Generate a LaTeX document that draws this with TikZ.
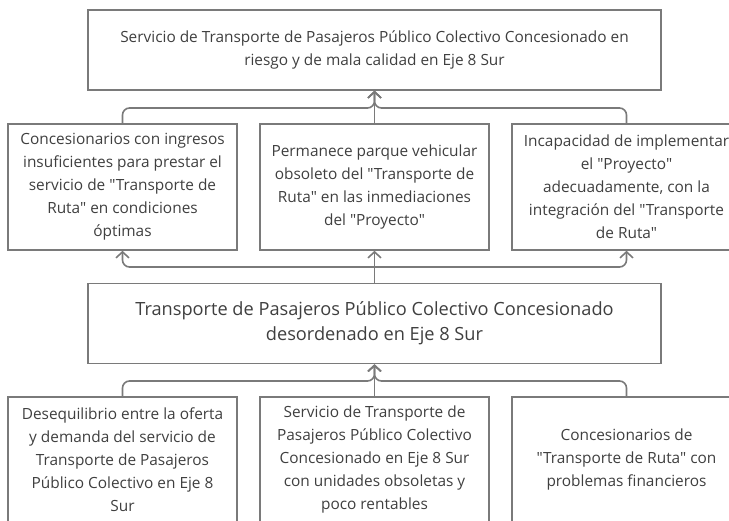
\documentclass[tikz,border=0pt]{standalone}
\usepackage{fontspec}
\setmainfont{Open Sans}[Ligatures=TeXOff]
\usetikzlibrary{arrows.meta}
\definecolor{linegray}{HTML}{7A7A7A}
\definecolor{textgray}{HTML}{3F3F3F}
\tikzstyle{box}=[draw=linegray, line width=1.6pt, text=textgray, align=center, inner sep=2pt, font=\fontsize{15.4}{23}\selectfont]
\tikzstyle{wide box}=[box, minimum width=573pt, minimum height=80pt]
\tikzstyle{cause box}=[box, minimum width=229pt, minimum height=126pt]
\tikzstyle{conn}=[draw=linegray, line width=1.6pt, rounded corners=7pt, -{Straight Barb[length=6pt,width=13pt]}]

\begin{document}
\begin{tikzpicture}[x=1pt,y=1pt]
    \useasboundingbox (0,0) rectangle (729,521);
    % Effect at the top
    \node[wide box] (top) at (374.5,471) {Servicio de Transporte de Pasajeros Público Colectivo Concesionado en\\riesgo y de mala calidad en Eje 8 Sur};

    % Effects
    \node[cause box] (mL) at (122.5,334) {Concesionarios con ingresos\\insuficientes para prestar el\\servicio de "Transporte de\\Ruta" en condiciones\\óptimas};
    \node[cause box] (mC) at (374.5,334) {Permanece parque vehicular\\obsoleto del "Transporte de\\Ruta" en las inmediaciones\\del "Proyecto"};
    \node[cause box] (mR) at (626.5,334) {Incapacidad de implementar\\el "Proyecto"\\adecuadamente, con la\\integración del "Transporte\\de Ruta"};

    % Central problem
    \node[wide box, font=\fontsize{18.2}{25}\selectfont] (core) at (374.5,197.5) {Transporte de Pasajeros Público Colectivo Concesionado\\desordenado en Eje 8 Sur};

    % Causes
    \node[cause box] (bL) at (122.5,61) {Desequilibrio entre la oferta\\y demanda del servicio de\\Transporte de Pasajeros\\Público Colectivo en Eje 8\\Sur};
    \node[cause box] (bC) at (374.5,61) {Servicio de Transporte de\\Pasajeros Público Colectivo\\Concesionado en Eje 8 Sur\\con unidades obsoletas y\\poco rentables};
    \node[cause box] (bR) at (626.5,61) {Concesionarios de\\"Transporte de Ruta" con\\problemas financieros};

    % Junction points of the brackets
    \coordinate (jtop) at (374.5,413);
    \coordinate (jmid) at (374.5,254);
    \coordinate (jbot) at (374.5,140);

    % Connect boxes
    \foreach \c in {mL, mR}
        \path[conn] (\c.north) |- (jtop) -- (top.south);
    \path[conn] (mC.north) -- (top.south);

    \foreach \c in {mL, mR}
        \path[conn] (jmid) -| (\c.south);
    \path[conn] (core.north) -- (mC.south);

    \foreach \c in {bL, bR}
        \path[conn] (\c.north) |- (jbot) -- (core.south);
    \path[conn] (bC.north) -- (core.south);
\end{tikzpicture}
\end{document}
